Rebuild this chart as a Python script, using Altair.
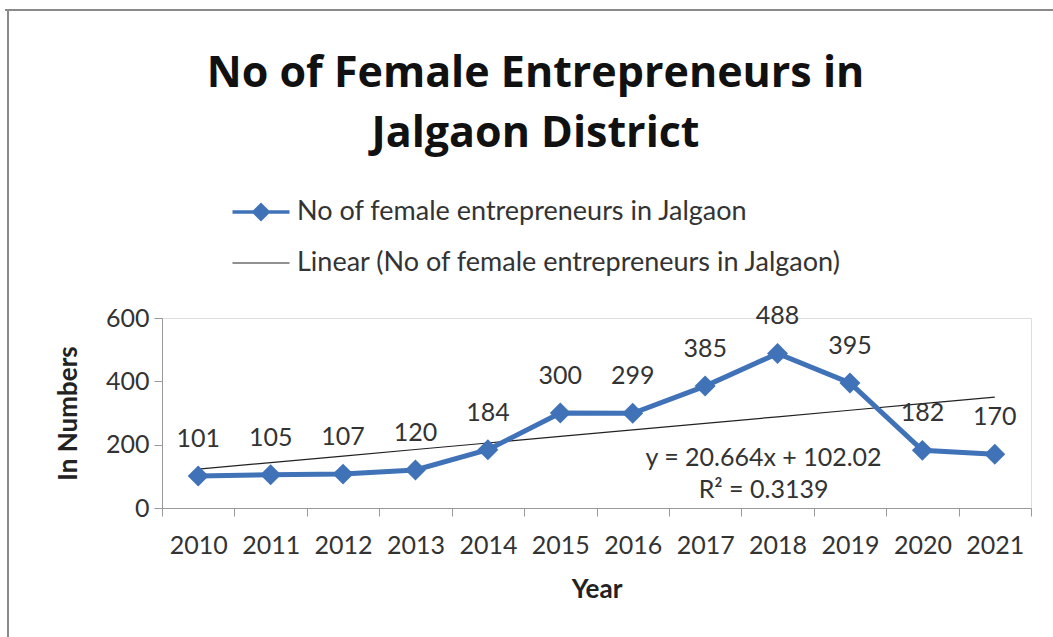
import altair as alt
import pandas as pd

years = ["2010", "2011", "2012", "2013", "2014", "2015", "2016", "2017", "2018", "2019", "2020", "2021"]
values = [101, 105, 107, 120, 184, 300, 299, 385, 488, 395, 182, 170]
slope = 20.664
intercept = 102.02
r2 = 0.3139
main_name = "No of female entrepreneurs in Jalgaon"
lin_name = "Linear (No of female entrepreneurs in Jalgaon)"
eq_year = ["2018"]
eq_value = [158]

df = pd.DataFrame({"year": years, "value": values, "series": main_name})
trend = pd.DataFrame({
    "year": years,
    "value": [slope * (i + 1) + intercept for i in range(len(years))],
    "series": lin_name,
})
eq_df = pd.DataFrame({"year": eq_year, "value": eq_value,
                      "label": [f"y = {slope}x + {intercept}\nR\u00b2 = {r2}"]})
legend_df = pd.DataFrame({"year": [years[0], years[0]], "value": [0, 0],
                          "series": [main_name, lin_name]})

BLUE = "#4072B8"
FONT = "Lato"
TXT = "#333333"
DOMAIN = [main_name, lin_name]

legend = alt.Legend(
    title=None, orient="none", legendX=82, legendY=-123, direction="vertical",
    symbolSize=900, labelOffset=19, rowPadding=20, labelFontSize=27,
    labelFont=FONT, labelColor=TXT, labelLimit=700, symbolOpacity=1,
)

x_enc = alt.X("year:O", bandPosition=0.5,
              scale=alt.Scale(type="band", paddingInner=0, paddingOuter=0),
              axis=alt.Axis(title="Year", labelAngle=0, tickBand="extent", tickSize=8,
                            labelPadding=17, labelFontSize=25, labelFont=FONT,
                            labelColor=TXT, titleFontSize=26, titleFont=FONT,
                            titleFontWeight="bold", titleColor="#222222", titlePadding=18,
                            domainColor="#999999", tickColor="#999999", grid=False))
y_scale = alt.Scale(domain=[0, 600])
y_enc = alt.Y("value:Q", scale=y_scale,
              axis=alt.Axis(title="In Numbers", values=[0, 200, 400, 600], tickSize=8,
                            labelPadding=5, labelFontSize=25, labelFont=FONT,
                            labelColor=TXT, titleFontSize=26, titleFont=FONT,
                            titleFontWeight="bold", titleColor="#222222", titlePadding=24,
                            domainColor="#999999", tickColor="#999999", grid=False))
y_plain = alt.Y("value:Q", scale=y_scale)

legend_layer = alt.Chart(legend_df).mark_point(filled=True, opacity=0).encode(
    x=x_enc, y=y_plain,
    fill=alt.Fill("series:N", scale=alt.Scale(domain=DOMAIN, range=[BLUE, "#222222"]), legend=legend),
    stroke=alt.Stroke("series:N", scale=alt.Scale(domain=DOMAIN, range=[BLUE, "#222222"]), legend=legend),
    strokeWidth=alt.StrokeWidth("series:N", scale=alt.Scale(type="ordinal", domain=DOMAIN, range=[3.5, 1.2]), legend=legend),
    shape=alt.Shape("series:N", scale=alt.Scale(
        domain=DOMAIN,
        range=["M-1.9,0H1.9M0,-0.47L0.47,0L0,0.47L-0.47,0Z", "M-1.9,0H1.9"]), legend=legend),
)

trend_line = alt.Chart(trend).mark_line(strokeWidth=1.2, color="#222222").encode(
    x=x_enc, y=y_plain,
)
main_line = alt.Chart(df).mark_line(strokeWidth=5, color=BLUE).encode(
    x=x_enc, y=y_enc,
)
point_shape = alt.Chart(df).mark_point(filled=True, size=440, shape="diamond", opacity=1,
                                       color=BLUE).encode(
    x=x_enc, y=y_plain,
)
labels = alt.Chart(df).mark_text(dy=-37, fontSize=25, font=FONT, color=TXT).encode(
    x=x_enc, y=y_plain, text="value:Q",
)
eq_text = alt.Chart(eq_df).mark_text(dx=-14, fontSize=25, font=FONT, color=TXT,
                                     lineBreak="\n", lineHeight=32).encode(
    x=x_enc, y=y_plain, text="label:N",
)
frame_top = alt.Chart(df).mark_rule(color="#8a8a8a", strokeWidth=2).encode(
    x=alt.value(-157), x2=alt.value(900), y=alt.value(-308))
frame_left = alt.Chart(df).mark_rule(color="#8a8a8a", strokeWidth=2).encode(
    x=alt.value(-154), y=alt.value(-308), y2=alt.value(330))

chart = alt.layer(frame_top, frame_left, legend_layer, trend_line, main_line, point_shape,
                  labels, eq_text).properties(
    width=869, height=190,
    autosize=alt.AutoSizeParams(type="none"),
    padding={"left": 162, "top": 318, "right": 22, "bottom": 129},
    title=alt.TitleParams(
        text=["No of Female Entrepreneurs in", "Jalgaon District"],
        fontSize=43, font="Open Sans", fontWeight="bold", color="#111111",
        anchor="middle", dx=-61, offset=0, dy=147, lineHeight=60,
    ),
).configure_view(stroke=None).configure(background="white")

chart.save("out.html", embed_options={"renderer": "svg", "actions": False})
